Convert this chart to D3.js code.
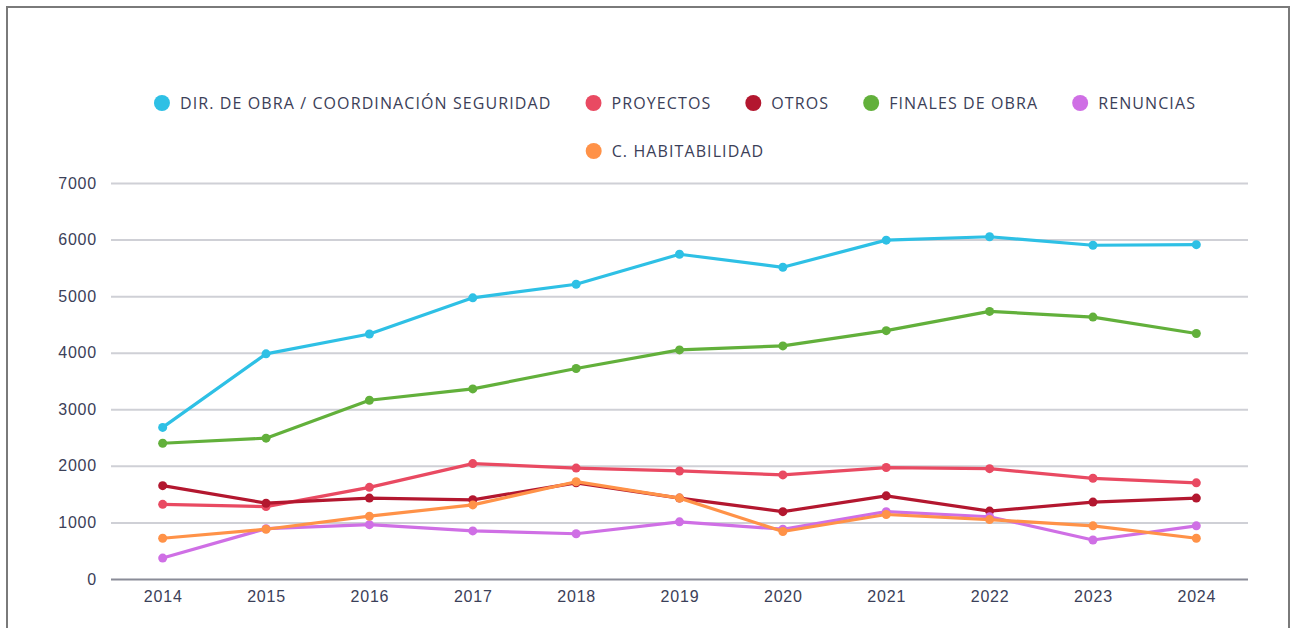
<!DOCTYPE html>
<html>
<head>
<meta charset="utf-8">
<script src="https://cdn.jsdelivr.net/npm/d3@7"></script>
<style>
  body { margin: 0; background: #fff; }
  svg { display: block; font-family: "Open Sans", "Noto Sans", sans-serif; }
</style>
</head>
<body>
<div id="chart"></div>
<script>
const years = [2014, 2015, 2016, 2017, 2018, 2019, 2020, 2021, 2022, 2023, 2024];
const series_names = ["DIR. DE OBRA / COORDINACIÓN SEGURIDAD", "PROYECTOS", "OTROS", "FINALES DE OBRA", "RENUNCIAS", "C. HABITABILIDAD"];
const series_colors = ["#2ec0e5", "#e94a62", "#b3172f", "#62b03b", "#cf6fe5", "#ff9248"];
const dir_obra = [2680, 3980, 4330, 4970, 5210, 5740, 5510, 5990, 6050, 5900, 5910];
const proyectos = [1320, 1280, 1620, 2040, 1960, 1910, 1840, 1970, 1950, 1780, 1700];
const otros = [1650, 1340, 1430, 1400, 1700, 1430, 1190, 1470, 1200, 1360, 1430];
const finales = [2400, 2490, 3160, 3360, 3720, 4050, 4120, 4390, 4730, 4630, 4340];
const renuncias = [370, 890, 960, 850, 800, 1010, 880, 1190, 1100, 690, 940];
const habitabilidad = [720, 880, 1110, 1310, 1720, 1430, 840, 1140, 1050, 940, 720];
const y_ticks = [0, 1000, 2000, 3000, 4000, 5000, 6000, 7000];

let config_size = {
    svg_width: 1296,
    svg_height: 628,
    plot: { left: 111, right: 1248, top: 183, bottom: 579 },
};

let all_values = [dir_obra, proyectos, otros, finales, renuncias, habitabilidad];
let data = series_names.map((name, i) => ({
    name: name,
    color: series_colors[i],
    values: years.map((yr, j) => ({year: yr, value: all_values[i][j]})),
}));

let svg = d3.select("#chart").append("svg")
    .attr("width", config_size.svg_width).attr("height", config_size.svg_height);

// outer frame
svg.append("rect")
    .attr("x", 7).attr("y", 7).attr("width", 1282).attr("height", 700)
    .attr("fill", "none").attr("stroke", "#7a7a7a").attr("stroke-width", 2);

let x = d3.scalePoint()
    .domain(years)
    .range([config_size.plot.left, config_size.plot.right])
    .padding(0.5);
let y = d3.scaleLinear()
    .domain([0, 7000])
    .range([config_size.plot.bottom, config_size.plot.top]);

let text_col = "#3b4058";

// grid + y labels
let grid = svg.append("g")
    .attr("transform", `translate(${config_size.plot.left},0)`)
    .call(d3.axisLeft(y).tickValues(y_ticks).tickFormat(d3.format("d"))
        .tickSize(-(config_size.plot.right - config_size.plot.left)).tickPadding(14));
grid.select(".domain").remove();
grid.selectAll(".tick line").attr("stroke", "#cfd0d6").attr("stroke-width", 2);
grid.selectAll(".tick").filter(d => d === 0).select("line").attr("stroke", "#8a8c98");
grid.selectAll(".tick text").attr("fill", text_col).attr("font-size", 16).attr("letter-spacing", 0.8);

// x labels
let xa = svg.append("g")
    .attr("transform", `translate(0,${config_size.plot.bottom})`)
    .call(d3.axisBottom(x).tickSize(0).tickPadding(12));
xa.select(".domain").remove();
xa.selectAll(".tick text").attr("fill", text_col).attr("font-size", 16).attr("letter-spacing", 0.8);

// lines
let line = d3.line().x(d => x(d.year)).y(d => y(d.value));
let sg = svg.selectAll("g.series").data(data).join("g").classed("series", true);
sg.append("path")
    .attr("d", d => line(d.values))
    .attr("fill", "none")
    .attr("stroke", d => d.color)
    .attr("stroke-width", 3.2)
    .attr("stroke-linejoin", "round");
sg.selectAll("circle").data(d => d.values.map(v => ({...v, color: d.color}))).join("circle")
    .attr("cx", d => x(d.year)).attr("cy", d => y(d.value))
    .attr("r", 4.5).attr("fill", d => d.color);

// legend, wrapped and centered
let legend = svg.append("g");
let items = legend.selectAll("g").data(data).join("g");
items.append("circle").attr("r", 8).attr("cx", 8).attr("cy", 0).attr("fill", d => d.color);
items.append("text").attr("x", 26).attr("y", 0).attr("dy", "0.35em")
    .attr("font-size", 16).attr("letter-spacing", 1.1)
    .attr("fill", text_col).text(d => d.name);
let max_row = 1100, gap = 34, center = 675;
let rows = [[]], row_w = [0];
items.each(function(d) {
    let w = 26 + this.querySelector("text").getComputedTextLength();
    let r = rows.length - 1;
    let add = rows[r].length ? gap + w : w;
    if (row_w[r] + add > max_row) { rows.push([]); row_w.push(0); r++; add = w; }
    rows[r].push({node: this, w: w});
    row_w[r] += add;
});
rows.forEach((row, ri) => {
    let cx = center - row_w[ri] / 2;
    row.forEach(it => {
        d3.select(it.node).attr("transform", `translate(${cx},${103 + ri * 48})`);
        cx += it.w + gap;
    });
});
</script>
</body>
</html>
